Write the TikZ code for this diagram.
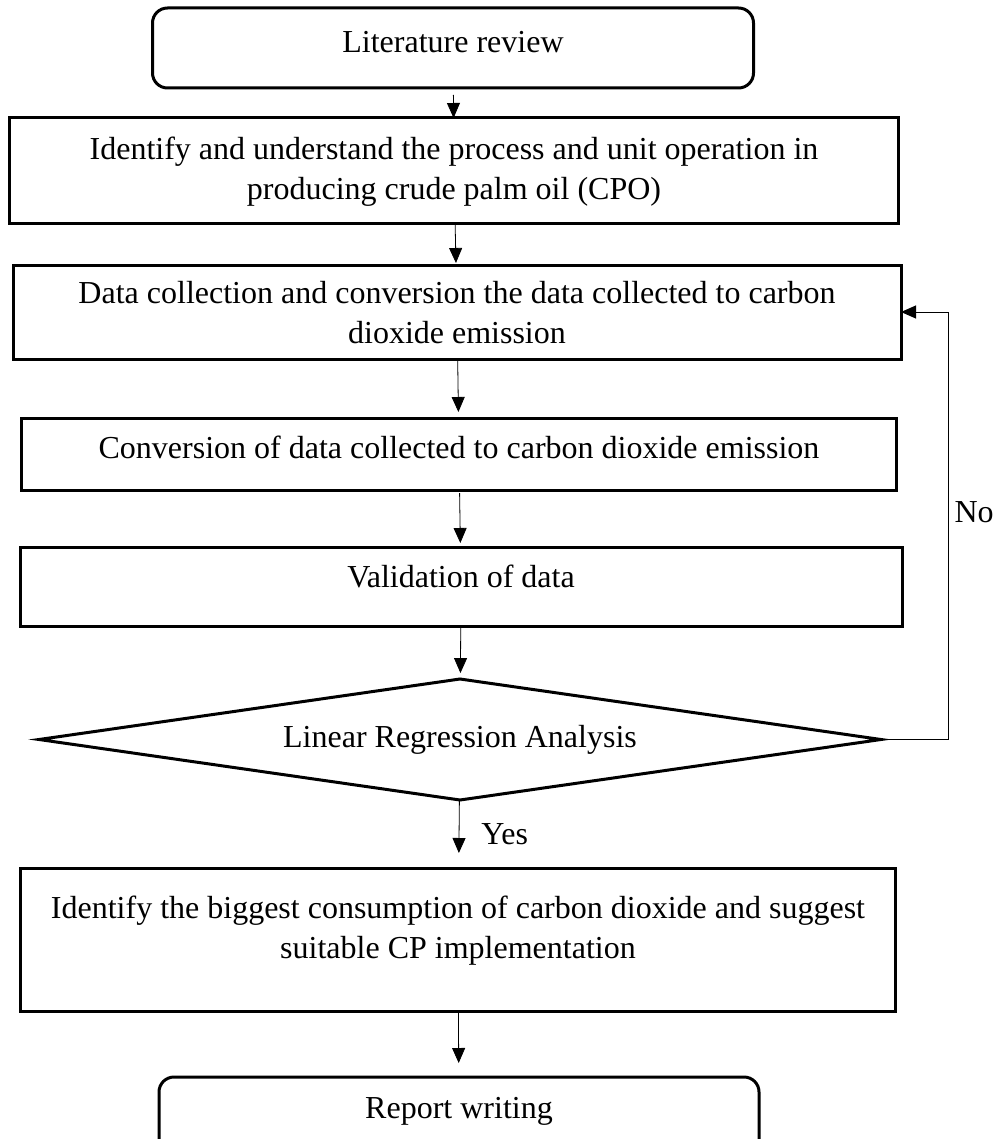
\documentclass[tikz,border=0pt]{standalone}
\usepackage{fontspec}
\setmainfont{Liberation Serif}
\usetikzlibrary{shapes.geometric,arrows.meta,positioning}
\tikzset{
    -{Triangle[length=7.5pt,width=6.5pt]},line width=0.6pt,
    box/.style ={rectangle, draw, line width=1.5pt, align=center, inner sep=0pt, outer sep=0pt, text height=10pt},
    rbox/.style ={box, rounded corners=7.5pt},
    dec/.style ={diamond, draw, line width=1.5pt, aspect=7, inner sep=0pt, outer sep=0pt},
    lbl/.style = {inner sep=3pt}
}
\begin{document}
\begin{tikzpicture}[x=0.5pt,y=-0.5pt,font=\fontsize{16}{20}\selectfont]
    \useasboundingbox (0,0) rectangle (1000,1139);

    %%Nodes
    \node[rbox, minimum width=300.5pt, minimum height=40pt, text depth=5pt] (lit) at (453,48) {Literature review};
    \node[box, minimum width=444.5pt, minimum height=53pt, text height=30pt, text depth=2pt] (ident) [below=15pt of lit, xshift=0.5pt] {Identify and understand the process and unit operation in\\producing crude palm oil (CPO)};
    \node[box, minimum width=444pt, minimum height=47pt, text height=32pt, text depth=1pt] (data) [below=20.5pt of ident, xshift=1.5pt] {Data collection and conversion the data collected to carbon\\dioxide emission};
    \node[box, minimum width=437.5pt, minimum height=36pt, text depth=6pt] (conv) [below=29.5pt of data, xshift=1pt] {Conversion of data collected to carbon dioxide emission};
    \node[box, minimum width=441pt, minimum height=39.5pt, text depth=9.5pt] (valid) [below=28.5pt of conv, xshift=1pt] {Validation of data};
    \node[dec, minimum width=421pt, minimum height=60.5pt] (lrd) [below=26.5pt of valid, xshift=-0.5pt] {Linear Regression Analysis};
    \node[box, minimum width=437.5pt, minimum height=71.5pt, text height=30pt, text depth=11.5pt] (big) [below=34pt of lrd, xshift=-1pt] {Identify the biggest consumption of carbon dioxide and suggest\\suitable CP implementation};
    \node[rbox, minimum width=300pt, minimum height=39pt, text depth=8pt] (report) [below=33pt of big, xshift=0.5pt] {Report writing};

    % Directed edge
    \path (lit) edge[shorten <=3.5pt] (ident);
    \path (ident) edge[shorten >=1pt] (data);
    \path (data) edge[shorten >=3pt] (conv);
    \path (conv) edge[shorten <=1.5pt, shorten >=2pt] (valid);
    \path (valid) edge[shorten >=3pt] (lrd);
    \path (lrd) edge[shorten >=7.5pt] node[lbl, right=8pt] {Yes} (big);
    \path (big) edge[shorten <=1pt, shorten >=7pt] (report);

    % loop back
    \draw[line width=0.5pt] (lrd.east) -- ++(67,0) |- node[lbl, pos=0.266, right] {No} (data.east);
\end{tikzpicture}
\end{document}
